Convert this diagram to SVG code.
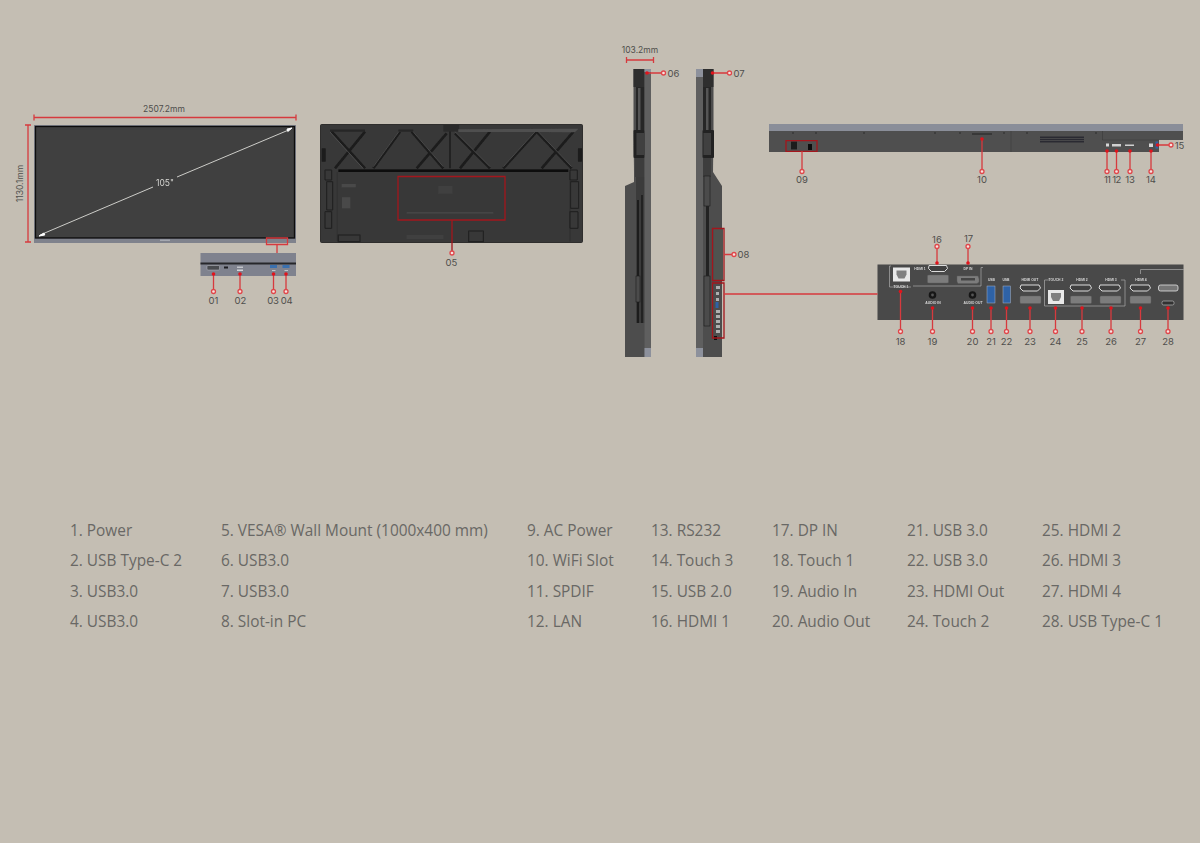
<svg xmlns="http://www.w3.org/2000/svg" width="1200" height="843" viewBox="0 0 1200 843">
<defs>
<filter id="soft" x="-5%" y="-5%" width="110%" height="110%"><feGaussianBlur stdDeviation="0.4"/></filter>
</defs>
<style>
.r{fill:none;stroke:#d63a3e;stroke-width:1.3}
.rt{fill:none;stroke:#a3161c;stroke-width:1.3}
.c{fill:#f6e4e0;stroke:#e0464a;stroke-width:1.3}
.d{fill:#e0141c}
.n{font-family:"Inter","Open Sans",sans-serif;font-size:9.5px;fill:#4f4e4c;text-anchor:middle}
.dim{font-family:"Inter","Open Sans",sans-serif;font-size:8.5px;fill:#4f4e4c;text-anchor:middle}
.l{font-family:"Open Sans",sans-serif;font-size:15.4px;fill:#696865}
.t{font-family:"Liberation Sans",sans-serif;font-size:3.4px;font-weight:bold;fill:#d8d8d8;text-anchor:middle}
.hd{fill:#404040;stroke:#dcdcdc;stroke-width:1}
.hf{fill:#7c7c7c;stroke:#5c5c5c;stroke-width:.5}
.br{fill:none;stroke:#a0a0a0;stroke-width:.8}
.usb{fill:#2f62a6;stroke:#a9b4c4;stroke-width:.5}
.lat{fill:none;stroke:#1d1d1d;stroke-width:8}
.lat2{fill:none;stroke:#5c5c5c;stroke-width:2}
.pr{fill:#4d4d4d}
.pd{fill:#2e2e2e}
.pl{fill:#8d919c}
.img{filter:url(#soft)}
</style>
<rect width="1200" height="843" fill="#c4beb3"/>

<g id="front-view" class="img">
<rect x="34" y="125" width="262" height="118" fill="#7f828c"/>
<rect x="35.500" y="126.500" width="259" height="111.500" fill="#404040" stroke="#0e0e0e" stroke-width="1.300"/>
<path d="M40 235L153 187M177 177L291 129" stroke="#dcdcd8" stroke-width=".9" fill="none"/>
<path d="M39 236l5-3 .8 2zM292 128l-5 1 .8 2.500z" fill="#fff" stroke="#fff"/>
<text x="165" y="186" class="dim" style="fill:#d6d6d2">105"</text>
<rect x="160" y="239.500" width="10" height="1.500" fill="#a5a8b0"/>
</g>

<g id="front-dimensions">
<path class="r" d="M34 117.500H296M34 114.500v6M296 114.500v6M28 125V242M25 125h6M25 242h6"/>
<text x="164" y="111.500" class="dim">2507.2mm</text>
<text transform="translate(23 183.500) rotate(-90)" class="dim">1130.1mm</text>
</g>

<g id="front-port-detail" class="img">
<rect x="200.500" y="253" width="95.500" height="23" fill="#7f828e"/>
<rect x="200.500" y="262.500" width="95.500" height="2" fill="#26272b"/>
<rect x="207" y="265.500" width="12.500" height="4.500" rx="1" fill="#4a4b50" stroke="#b9bbc0" stroke-width=".5"/>
<rect x="224" y="266.500" width="4" height="2" fill="#1e1e20"/>
<rect x="237" y="266.500" width="6" height="1.500" fill="#c2c4ca"/>
<rect x="237" y="269.500" width="6" height="1.500" fill="#d2d3d8"/>
<rect x="270" y="265" width="7" height="3" fill="#3a6fae"/>
<rect x="282.500" y="265" width="7" height="3" fill="#3a6fae"/>
<rect x="272" y="270" width="3.500" height="1" fill="#c2c4ca"/>
<rect x="284.500" y="270" width="3.500" height="1" fill="#c2c4ca"/>
</g>

<g id="back-view" class="img">
<rect x="320.500" y="124.500" width="262" height="118" rx="1" fill="#383838" stroke="#1d1d1d" stroke-width=".8"/>
<g transform="translate(310 110) scale(.3333)">
<path class="lat" d="M65 65L165 175M165 65L75 175M190 175L270 65M305 65L400 175M410 70L320 175M435 70L540 175M540 65L450 175M580 175L680 65M680 65L785 175M795 60L695 175"/>
<path class="lat2" d="M60 66L160 176M190 170L270 60M305 60L400 170M435 65L540 170M580 170L680 60M680 60L785 170"/>
<path d="M420 45V175" stroke="#1d1d1d" stroke-width="5"/>
<rect x="400" y="45" width="48" height="20" fill="#2c2c2c"/>
<path d="M60 62H165M265 62H310M535 62H570M670 62H690" stroke="#262626" stroke-width="7"/>
<path d="M445 58L805 56L795 67L680 66L445 66z" fill="#505050"/>
<rect x="85" y="178" width="690" height="8" fill="#0f0f0f"/>
<rect x="35" y="115" width="12" height="40" fill="#1b1b1b"/>
<rect x="804" y="115" width="12" height="40" fill="#1b1b1b"/>
<path d="M82 186V395M780 186V395" fill="none" stroke="#2a2a2a" stroke-width="2"/>
<path d="M45 180h20v30H45zM50 215h18v85H50zM45 305h20v50H45zM780 180h22v30h-22zM782 215h24v80h-24zM780 305h24v50h-24z" fill="none" stroke="#1f1f1f" stroke-width="3"/>
<rect x="95" y="222" width="42" height="10" fill="#4a4a4a"/>
<rect x="96" y="262" width="25" height="33" fill="#4a4a4a"/>
<rect x="85" y="375" width="65" height="20" fill="none" stroke="#202020" stroke-width="3"/>
<rect x="476" y="363" width="44" height="32" fill="none" stroke="#202020" stroke-width="3"/>
<rect x="290" y="375" width="110" height="12" fill="#414141"/>
<rect x="385" y="228" width="42" height="24" fill="#3f3f3f"/>
<rect x="290" y="306" width="260" height="5" fill="#444"/>
</g>
</g>

<g id="left-side-view" class="img">
<path class="pr" d="M633.500 69H651V357H625V186L634 182V172L633.500 130z"/>
<rect x="633.500" y="69" width="11" height="18" class="pd"/>
<rect x="636" y="87" width="8.500" height="43" fill="#272727"/>
<rect x="638" y="88" width="2.500" height="42" fill="#555"/>
<rect x="633.500" y="130" width="11.500" height="28" rx="1" fill="#242424"/>
<rect x="636.500" y="133" width="7.500" height="22" fill="#404040"/>
<rect x="635" y="158" width="9.500" height="19" fill="#3d3d3d"/>
<rect x="636" y="177" width="8.500" height="146" fill="#3a3a3a"/>
<rect x="637" y="200" width="2" height="123" fill="#1e1e1e"/>
<rect x="641" y="195" width="2" height="128" fill="#222"/>
<rect x="636" y="276" width="4" height="26" fill="#4b4b4b" stroke="#1c1c1c" stroke-width=".6"/>
<rect x="644.500" y="69" width="6.500" height="288" fill="#5e5e5e"/>
<rect x="644.500" y="348" width="6.500" height="9" class="pl"/>
<rect x="644.500" y="69" width="6.500" height="3" class="pl"/>
</g>

<g id="right-side-view" class="img">
<path class="pr" d="M696 69H713.500V130L713 172L722 186V357H696z"/>
<rect x="696" y="69" width="7" height="288" fill="#5e5e5e"/>
<rect x="696" y="69" width="7" height="8" class="pl"/>
<rect x="696" y="348" width="7" height="9" class="pl"/>
<rect x="703" y="69" width="10.500" height="18" class="pd"/>
<rect x="703" y="87" width="8" height="43" fill="#272727"/>
<rect x="706" y="88" width="2.500" height="42" fill="#555"/>
<rect x="702.500" y="130" width="11.500" height="28" rx="1" fill="#242424"/>
<rect x="703.500" y="133" width="7.500" height="22" fill="#404040"/>
<rect x="703" y="158" width="8" height="19" fill="#3d3d3d"/>
<rect x="706" y="177" width="3" height="146" fill="#242424"/>
<rect x="704" y="176" width="6" height="30" fill="#4b4b4b" stroke="#1c1c1c" stroke-width=".6"/>
<rect x="704" y="276" width="6" height="50" fill="#4b4b4b" stroke="#1c1c1c" stroke-width=".6"/>
<rect x="714" y="229" width="9" height="51" fill="#505250"/>
<g fill="#b0b0b0">
<rect x="716" y="286" width="4" height="3"/><rect x="716" y="292" width="3" height="3"/><rect x="716" y="298" width="3" height="3"/>
<rect x="716" y="310" width="4" height="3"/><rect x="716" y="315" width="4" height="3"/><rect x="716" y="320" width="4" height="3"/><rect x="716" y="325" width="4" height="3"/><rect x="716" y="330" width="4" height="3"/>
</g>
<rect x="715.500" y="302" width="3" height="6" fill="#2f62a6"/>
<rect x="714" y="336" width="3" height="4" fill="#111"/>
</g>

<g id="bottom-view" class="img">
<rect x="769" y="124" width="414" height="7" fill="#8a8e99"/>
<path d="M769 131H1183V140H1159V152H769z" fill="#505050"/>
<path d="M1011 131V152M1102.500 131V140H1159" stroke="#3a3a3a" stroke-width=".6" fill="none"/>
<rect x="1040" y="136.500" width="44" height="6" fill="#2c2c30"/>
<path d="M1040 138.500h44M1040 140.500h44" stroke="#5b5b5b" stroke-width=".6"/>
<rect x="791" y="141.500" width="6" height="8" fill="#1e1e1e"/>
<rect x="808" y="144" width="4" height="6" fill="#111"/>
<rect x="972" y="133.500" width="20" height="1" fill="#1e1e1e"/>
<rect x="1106" y="143.500" width="3" height="3" fill="#d6d6d6"/>
<rect x="1112" y="144" width="9" height="2.500" fill="#d0d0d0"/>
<rect x="1125" y="144.500" width="9" height="1.500" fill="#d0d0d0"/>
<rect x="1149" y="143.500" width="4" height="3.500" fill="#d6d6d6"/>
<rect x="1155.500" y="141.500" width="2.500" height="7" fill="#2f62a6"/>
<g fill="#1c1c1c">
<circle cx="793" cy="133" r=".7"/><circle cx="816" cy="133" r=".7"/><circle cx="864" cy="133" r=".7"/><circle cx="935" cy="133" r=".7"/><circle cx="960" cy="133" r=".7"/><circle cx="1004" cy="133" r=".7"/><circle cx="1027" cy="133" r=".7"/><circle cx="1096" cy="133" r=".7"/>
</g>
</g>

<g id="port-panel" class="img">
<rect x="877.500" y="264.500" width="306" height="55.500" fill="#484848"/>
<path class="br" d="M891 266H889.500V287H911M913 286H981V267.500H983"/>
<path class="br" d="M1049 280H1044.500V306H1125V280H1121"/>
<path class="br" d="M1140.500 274V269.500H1184"/>
<rect x="893" y="267.500" width="17" height="14" fill="#e8e8e8"/>
<path d="M896.500 270.500h10v4l-2 4h-6l-2-4z" fill="#808080"/>
<text x="901" y="287.500" class="t">TOUCH 1</text>
<text x="920" y="269.500" class="t">HDMI 1</text>
<text x="968" y="269.500" class="t">DP IN</text>
<path class="hd" d="M929 265.500h17.500l1 3-3 3h-13l-3-3z"/>
<rect x="927.500" y="275" width="21" height="8" rx="1" class="hf"/>
<path class="hf" d="M957 276h21l1 3v3l-2 1.500h-19l-1-2z"/>
<rect x="961" y="278" width="14" height="2.500" fill="#444"/>
<circle cx="932.500" cy="295" r="3.800" fill="#161616"/><circle cx="932.500" cy="295" r="1.400" fill="#555"/>
<circle cx="972.500" cy="295" r="3.800" fill="#161616"/><circle cx="972.500" cy="295" r="1.400" fill="#555"/>
<text x="933" y="303.500" class="t">AUDIO IN</text>
<text x="973" y="303.500" class="t">AUDIO OUT</text>
<text x="991.500" y="281" class="t">USB</text>
<text x="1006" y="281" class="t">USB</text>
<rect x="987" y="286" width="8" height="17" class="usb"/>
<rect x="1003" y="286" width="7.500" height="17" class="usb"/>
<text x="1030" y="281" class="t">HDMI OUT</text>
<text x="1056" y="281" class="t">TOUCH 2</text>
<text x="1082" y="281" class="t">HDMI 2</text>
<text x="1111" y="281" class="t">HDMI 3</text>
<text x="1141" y="281" class="t">HDMI 4</text>
<path class="hd" d="M1021 285h18l1.500 3-3 3h-14.500l-3-3z"/>
<path class="hd" d="M1071 285h19l1.500 3-3 3h-15.500l-3-3z"/>
<path class="hd" d="M1100 285h19l1.500 3-3 3h-15.500l-3-3z"/>
<path class="hd" d="M1131 285h18l1.500 3-3 3h-14.500l-3-3z"/>
<rect x="1020" y="296" width="21" height="7.500" rx="1" class="hf"/>
<rect x="1070.500" y="296" width="21" height="7.500" rx="1" class="hf"/>
<rect x="1100" y="296" width="21" height="7.500" rx="1" class="hf"/>
<rect x="1130" y="296" width="21" height="7.500" rx="1" class="hf"/>
<rect x="1048" y="290" width="16" height="14" fill="#e8e8e8"/>
<path d="M1051 293h10v4l-2 4h-6l-2-4z" fill="#808080"/>
<rect x="1158.500" y="285" width="19.500" height="6" rx="2" fill="#767676" stroke="#e2e2e2" stroke-width=".8"/>
<rect x="1162" y="301" width="12" height="4" rx="1.500" fill="#333" stroke="#b8b8b8" stroke-width=".7"/>
</g>

<g id="connectors">
<path class="r" d="M266.500 238h21v6.500h-21zM277 244.500V253"/>
<path class="r" d="M213.500 274V291M240 274V291M273.500 274V291M286 274V291"/>
<path class="rt" d="M398 176.500H505V220H398zM452 220V253"/>
<path class="r" d="M626.500 57V63M653.500 57V63M626.500 60H653.500M647 73H663M712.500 73H729"/>
<path class="rt" d="M712.500 228.500H724V280.500H712.500zM712.500 283H724V338H712.500z"/>
<path class="r" d="M724 254.500H734M724 294H877.500"/>
<path class="rt" d="M786 140.700H817V151.300H786z"/>
<path class="r" d="M802 151.300V171M982 139V171M1107 151V171M1116.500 151V171M1130 151V171M1151 151V171M1157.500 145H1171"/>
<path class="r" d="M937 247V263M968 247V263M900.500 291.500V331M932.500 308V331M972.500 308V331M991 308V331M1006.500 308V331M1030 308V331M1055.500 308V331M1082 308V331M1111 308V331M1140.500 308V331M1168 308V331"/>
<g class="d">
<circle cx="213.500" cy="274" r="1.800"/><circle cx="240" cy="274" r="1.800"/><circle cx="273.500" cy="274" r="1.800"/><circle cx="286" cy="274" r="1.800"/>
<circle cx="647" cy="73" r="1.800"/><circle cx="712.500" cy="73" r="1.800"/>
<circle cx="982" cy="139" r="1.800"/><circle cx="1107" cy="151" r="1.800"/><circle cx="1116.500" cy="151" r="1.800"/><circle cx="1130" cy="151" r="1.800"/><circle cx="1151" cy="151" r="1.800"/><circle cx="1157.500" cy="145" r="1.800"/>
<circle cx="937" cy="263" r="1.800"/><circle cx="968" cy="263" r="1.800"/><circle cx="900.500" cy="291.500" r="1.800"/><circle cx="932.500" cy="308" r="1.800"/><circle cx="972.500" cy="308" r="1.800"/><circle cx="991" cy="308" r="1.800"/><circle cx="1006.500" cy="308" r="1.800"/><circle cx="1030" cy="308" r="1.800"/><circle cx="1055.500" cy="308" r="1.800"/><circle cx="1082" cy="308" r="1.800"/><circle cx="1111" cy="308" r="1.800"/><circle cx="1140.500" cy="308" r="1.800"/><circle cx="1168" cy="308" r="1.800"/>
</g>
<g class="c">
<circle cx="213.500" cy="291.500" r="2"/><circle cx="240" cy="291.500" r="2"/><circle cx="273.500" cy="291.500" r="2"/><circle cx="286" cy="291.500" r="2"/>
<circle cx="452" cy="253" r="2"/>
<circle cx="663.500" cy="73" r="2"/><circle cx="729.500" cy="73" r="2"/><circle cx="734" cy="254.500" r="2"/>
<circle cx="802" cy="171.500" r="2"/><circle cx="982" cy="171.500" r="2"/><circle cx="1107" cy="171.500" r="2"/><circle cx="1116.500" cy="171.500" r="2"/><circle cx="1130" cy="171.500" r="2"/><circle cx="1151" cy="171.500" r="2"/><circle cx="1171" cy="145" r="2"/>
<circle cx="937" cy="246.500" r="2"/><circle cx="968" cy="246.500" r="2"/>
<circle cx="900.500" cy="331.500" r="2"/><circle cx="932.500" cy="331.500" r="2"/><circle cx="972.500" cy="331.500" r="2"/><circle cx="991" cy="331.500" r="2"/><circle cx="1006.500" cy="331.500" r="2"/><circle cx="1030" cy="331.500" r="2"/><circle cx="1055.500" cy="331.500" r="2"/><circle cx="1082" cy="331.500" r="2"/><circle cx="1111" cy="331.500" r="2"/><circle cx="1140.500" cy="331.500" r="2"/><circle cx="1168" cy="331.500" r="2"/>
</g>
</g>

<g id="callouts">
<text x="213.500" y="304" class="n">01</text><text x="240.500" y="304" class="n">02</text><text x="273" y="304" class="n" letter-spacing="-.3">03</text><text x="286.500" y="304" class="n" letter-spacing="-.3">04</text>
<text x="451.500" y="265.500" class="n">05</text>
<text x="673.500" y="76.500" class="n">06</text><text x="739" y="76.500" class="n">07</text><text x="743.500" y="258" class="n">08</text>
<text x="640" y="53" class="dim">103.2mm</text>
<text x="802" y="182.500" class="n">09</text><text x="982" y="182.500" class="n">10</text><text x="1107" y="182.500" class="n" letter-spacing="-.8">11</text><text x="1116.500" y="182.500" class="n" letter-spacing="-.5">12</text><text x="1130" y="182.500" class="n">13</text><text x="1151" y="182.500" class="n">14</text>
<text x="1179.500" y="148.500" class="n">15</text>
<text x="937" y="242.500" class="n">16</text><text x="968.500" y="241.500" class="n">17</text>
<text x="900.500" y="344.500" class="n">18</text><text x="932.500" y="344.500" class="n">19</text><text x="972.500" y="344.500" class="n">20</text><text x="991" y="344.500" class="n">21</text><text x="1006.500" y="344.500" class="n">22</text><text x="1030" y="344.500" class="n">23</text><text x="1055.500" y="344.500" class="n">24</text><text x="1082" y="344.500" class="n">25</text><text x="1111" y="344.500" class="n">26</text><text x="1140.500" y="344.500" class="n">27</text><text x="1168" y="344.500" class="n">28</text>
</g>

<g id="legend" class="l">
<text x="70" y="536">1. Power</text><text x="70" y="566">2. USB Type-C 2</text><text x="70" y="597">3. USB3.0</text><text x="70" y="627">4. USB3.0</text>
<text x="221" y="536">5. VESA® Wall Mount (1000x400 mm)</text><text x="221" y="566">6. USB3.0</text><text x="221" y="597">7. USB3.0</text><text x="221" y="627">8. Slot-in PC</text>
<text x="527" y="536">9. AC Power</text><text x="527" y="566">10. WiFi Slot</text><text x="527" y="597">11. SPDIF</text><text x="527" y="627">12. LAN</text>
<text x="651" y="536">13. RS232</text><text x="651" y="566">14. Touch 3</text><text x="651" y="597">15. USB 2.0</text><text x="651" y="627">16. HDMI 1</text>
<text x="772" y="536">17. DP IN</text><text x="772" y="566">18. Touch 1</text><text x="772" y="597">19. Audio In</text><text x="772" y="627">20. Audio Out</text>
<text x="907" y="536">21. USB 3.0</text><text x="907" y="566">22. USB 3.0</text><text x="907" y="597">23. HDMI Out</text><text x="907" y="627">24. Touch 2</text>
<text x="1042" y="536">25. HDMI 2</text><text x="1042" y="566">26. HDMI 3</text><text x="1042" y="597">27. HDMI 4</text><text x="1042" y="627">28. USB Type-C 1</text>
</g>
</svg>
